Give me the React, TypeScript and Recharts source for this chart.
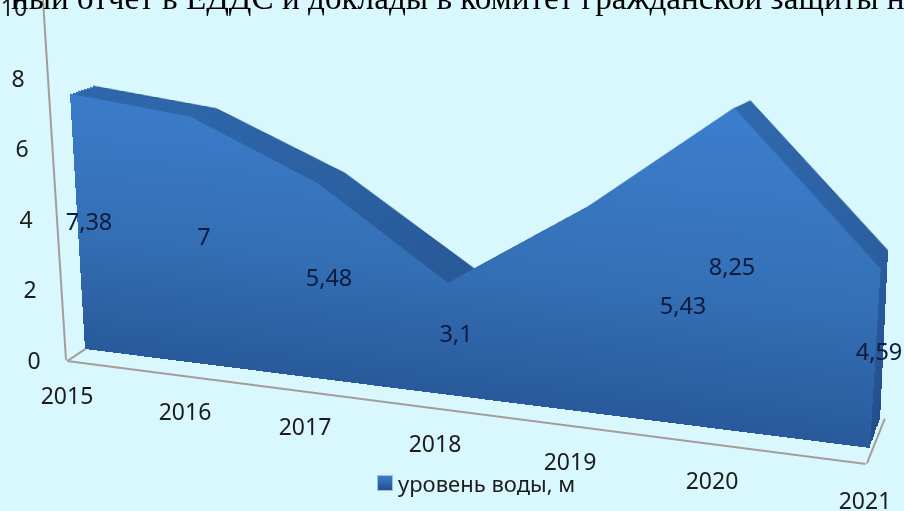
import React from 'react';
import { Area, AreaChart, ComposedChart, LabelList, Legend, Line, XAxis, YAxis } from 'recharts';

/* ---- data ---- */
const YEARS = ['2015', '2016', '2017', '2018', '2019', '2020', '2021'];
const WATER_LEVEL = [7.38, 7, 5.48, 3.1, 5.43, 8.25, 4.59];
const VALUE_TICKS = [0, 2, 4, 6, 8, 10];
const SERIES_NAME = 'уровень воды, м';
const HEADING = 'ный отчет в ЕДДС и доклады в комитет гражданской защиты н';

const rows = YEARS.map((year, i) => ({ year, level: WATER_LEVEL[i] }));

/* ---- layout of the fake 3D look ---- */
type Pt = [number, number];
// quads are top-left, top-right, bottom-right, bottom-left
const FRONT_QUAD: Pt[] = [[64.4, -1.6], [894, 44.4], [870, 448], [85, 349]];
const BACK_QUAD: Pt[] = [[88, -8], [898, 42], [880, 420], [105, 340]];
const DEPTH_STEPS = [1, 0.875, 0.75, 0.625, 0.5, 0.375, 0.25, 0.125];

// wall and floor edges of the 3D box
const FRAME_LINES: [Pt, Pt][] = [
  [[44, 0], [67, 360]],
  [[67, 360], [85, 348]],
  [[67, 360], [866, 463]],
  [[866, 463], [884, 418]],
];

// label placement, the 3D chart puts them away from the points
const X_TICK_NUDGE = [0, -15, -28, -31, -29, -20, 0];
const LABEL_X = [89, 204, 329, 456, 683, 732, 879];
const LABEL_Y = [222, 237, 278, 334, 306, 267, 352];

const FONT = '"Noto Sans", sans-serif';
const W = 904;
const H = 511;

const lerpQuad = (a: Pt[], b: Pt[], t: number): Pt[] =>
  a.map((p, i) => [p[0] + (b[i][0] - p[0]) * t, p[1] + (b[i][1] - p[1]) * t] as Pt);

// rectangle w x h -> four corners, as a css matrix3d
const toMatrix = (w: number, h: number, q: Pt[]) => {
  const [[x0, y0], [x1, y1], [x2, y2], [x3, y3]] = q;
  const dx1 = x1 - x2;
  const dx2 = x3 - x2;
  const sx = x0 - x1 + x2 - x3;
  const dy1 = y1 - y2;
  const dy2 = y3 - y2;
  const sy = y0 - y1 + y2 - y3;
  const den = dx1 * dy2 - dx2 * dy1;
  const g = (sx * dy2 - dx2 * sy) / den;
  const k = (dx1 * sy - sx * dy1) / den;
  const a = x1 - x0 + g * x1;
  const b = x3 - x0 + k * x3;
  const d = y1 - y0 + g * y1;
  const e = y3 - y0 + k * y3;
  return `matrix3d(${a / w},${d / w},0,${g / w},${b / h},${e / h},0,${k / h},0,0,1,0,${x0},${y0},0,1)`;
};

const Projected: React.FC<{ w: number; h: number; quad: Pt[]; children: React.ReactNode }> = ({ w, h, quad, children }) => (
  <div
    style={{
      position: 'absolute',
      left: 0,
      top: 0,
      width: w,
      height: h,
      transformOrigin: '0 0',
      transform: toMatrix(w, h, quad),
    }}
  >
    {children}
  </div>
);

// one box edge: a bare y axis laid along the segment, so its stroke stays even
const FrameLine: React.FC<{ from: Pt; to: Pt }> = ({ from, to }) => {
  const len = Math.hypot(to[0] - from[0], to[1] - from[1]);
  const nx = -(to[1] - from[1]) / len;
  const ny = (to[0] - from[0]) / len;
  const quad: Pt[] = [
    [from[0] - nx, from[1] - ny],
    [from[0] + nx * 19, from[1] + ny * 19],
    [to[0] + nx * 19, to[1] + ny * 19],
    [to[0] - nx, to[1] - ny],
  ];
  return (
    <Projected w={20} h={len} quad={quad}>
      <ComposedChart width={20} height={len} data={rows} margin={{ top: 0, right: 0, bottom: 0, left: 1 }}>
        <XAxis dataKey="year" hide />
        <YAxis width={1} domain={[0, 1]} tick={false} tickLine={false} stroke="#A39C99" strokeWidth={2} />
      </ComposedChart>
    </Projected>
  );
};

const XTick = ({ x, index, payload }: any) => {
  const px = x + X_TICK_NUDGE[index];
  return (
    <text x={px} y={404 + (px - 67) * 0.1316} textAnchor="middle" fontFamily={FONT} fontSize={23} fill="#1c1c1c">
      {payload.value}
    </text>
  );
};

const YTick = ({ y, payload }: any) => (
  <text x={34 - payload.value * 2} y={y + 9} textAnchor="middle" fontFamily={FONT} fontSize={23} fill="#1c1c1c">
    {payload.value}
  </text>
);

const ValueLabel = ({ index, value }: any) => (
  <text x={LABEL_X[index]} y={LABEL_Y[index] + 8} textAnchor="middle" fontFamily={FONT} fontSize={23.5} fill="#0c1c40">
    {String(value).replace('.', ',')}
  </text>
);

const LegendBox = ({ payload }: any) => (
  <div style={{ display: 'flex', alignItems: 'center', fontFamily: FONT, fontSize: 22, color: '#1c1c1c', whiteSpace: 'nowrap' }}>
    <span
      style={{
        width: 16,
        height: 16,
        marginRight: 5,
        background: 'linear-gradient(#3b7ccb, #24508c)',
        border: '1px solid #9fc0e0',
        boxSizing: 'border-box',
      }}
    />
    {payload?.[0]?.value}
  </div>
);

export default function App() {
  return (
    <div style={{ position: 'fixed', left: 0, top: 0, width: W, height: H, overflow: 'hidden', background: '#D8F8FD' }}>
      {/* floor frame and wall line */}
      {FRAME_LINES.map(([from, to], i) => (
        <FrameLine key={i} from={from} to={to} />
      ))}

      {/* copies of the series going back give the depth band */}
      {DEPTH_STEPS.map((t) => (
        <Projected key={t} w={800} h={400} quad={lerpQuad(FRONT_QUAD, BACK_QUAD, t)}>
          <AreaChart width={800} height={400} data={rows} margin={{ top: 0, right: 0, bottom: 0, left: 0 }}>
            <defs>
              <linearGradient id={`backFill${t}`} x1="0" y1="0" x2="0" y2="1">
                <stop offset="0%" stopColor="#2F69AE" />
                <stop offset="100%" stopColor="#234F8C" />
              </linearGradient>
            </defs>
            <XAxis dataKey="year" hide />
            <YAxis hide domain={[0, 10]} />
            <Area type="linear" dataKey="level" stroke={t === 1 ? '#27568F' : 'none'} fill={`url(#backFill${t})`} fillOpacity={1} isAnimationActive={false} />
          </AreaChart>
        </Projected>
      ))}

      {/* front face */}
      <Projected w={800} h={400} quad={FRONT_QUAD}>
        <AreaChart width={800} height={400} data={rows} margin={{ top: 0, right: 0, bottom: 0, left: 0 }}>
          <defs>
            <linearGradient id="frontFill" x1="0" y1="0" x2="0" y2="1">
              <stop offset="0%" stopColor="#3C7ECE" />
              <stop offset="55%" stopColor="#3570B6" />
              <stop offset="100%" stopColor="#285A9B" />
            </linearGradient>
          </defs>
          <XAxis dataKey="year" hide />
          <YAxis hide domain={[0, 10]} />
          <Area type="linear" dataKey="level" stroke="none" fill="url(#frontFill)" fillOpacity={1} isAnimationActive={false} />
        </AreaChart>
      </Projected>

      {/* flat layer with all the text */}
      <div style={{ position: 'absolute', left: 0, top: 0 }}>
        <ComposedChart width={W} height={H} data={rows} margin={{ top: 7, right: 39, bottom: 150, left: 66 }}>
          <XAxis dataKey="year" height={1} interval={0} axisLine={false} tickLine={false} tick={<XTick />} />
          <YAxis width={1} domain={[0, 10]} ticks={VALUE_TICKS} interval={0} axisLine={false} tickLine={false} tick={<YTick />} />
          <Line dataKey="level" name={SERIES_NAME} stroke="none" dot={false} isAnimationActive={false}>
            <LabelList dataKey="level" content={<ValueLabel />} />
          </Line>
          <Legend
            layout="horizontal"
            verticalAlign="middle"
            align="center"
            content={<LegendBox />}
            wrapperStyle={{ left: 377, top: 468, width: 'auto' }}
          />
        </ComposedChart>
      </div>

      <div
        style={{
          position: 'absolute',
          left: 11,
          top: -24,
          fontFamily: '"Liberation Serif", serif',
          fontSize: 33.2,
          lineHeight: '44px',
          color: '#000',
          whiteSpace: 'nowrap',
        }}
      >
        {HEADING}
      </div>
    </div>
  );
}
